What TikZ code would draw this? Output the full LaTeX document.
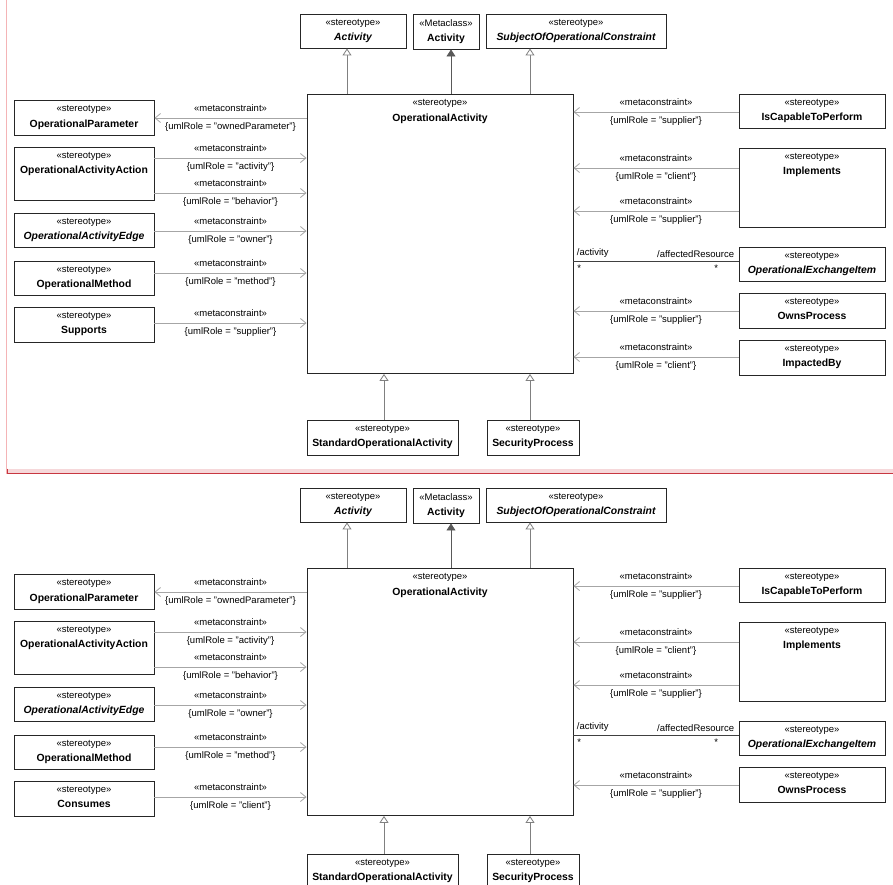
\documentclass[tikz,border=0pt]{standalone}
\usepackage{fontspec}
\setmainfont{Liberation Sans}
\usepackage{tikz}
\usetikzlibrary{arrows.meta, positioning}

\definecolor{pagered}{RGB}{200,55,65}
\definecolor{pagepink}{RGB}{246,216,218}
\definecolor{marginpink}{RGB}{244,180,182}
\newcommand{\nm}[1]{\fontsize{10.4}{15.5}\selectfont\bfseries #1}

\begin{document}
\begin{tikzpicture}[
  x=1pt, y=-1pt,
  stbox/.style={draw=black!85, line width=0.9pt, fill=white, inner sep=0pt},
  sthead/.style={anchor=north, align=center, inner sep=0pt, yshift=-5.5pt,
                 font=\fontsize{9.5}{15.5}\selectfont},
  dep/.style={draw=gray!70, line width=0.8pt,
              -{Straight Barb[length=5.5pt, width=9pt]}},
  gen/.style={draw=black!50, line width=0.8pt,
              -{Triangle[open, length=7pt, width=9pt, fill=white]}},
  ext/.style={draw=black!65, line width=0.8pt,
              -{Triangle[length=7pt, width=9pt]}},
  assoc/.style={draw=black!75, line width=0.8pt},
  mc/.style={midway, font=\fontsize{9.5}{11}\selectfont, yshift=9.5pt},
  role/.style={midway, font=\fontsize{9.5}{11}\selectfont, yshift=-9.5pt},
  assocend/.style={font=\fontsize{9.5}{11}\selectfont, inner sep=0pt}
]
\useasboundingbox (0,0) rectangle (893,884);
\clip (0,0) rectangle (893,884);
\fill[white] (0,0) rectangle (893,884);

% both diagrams: suffix / offset / last left box / its role / box height / child row
\foreach \dg/\dy/\lname/\lrole/\bh/\ly in
    {t/0/Supports/supplier/279/437.5, b/474/Consumes/client/247/397.5}{
\begin{scope}[yshift=-\dy pt]
  % top row
  \node[stbox, minimum width=106pt, minimum height=34pt,
        label={[sthead]north:«stereotype»\\\nm{\itshape Activity}}] (acts\dg) at (353,31) {};
  \node[stbox, minimum width=66pt, minimum height=35pt,
        label={[sthead]north:«Metaclass»\\\nm{Activity}}] (actm\dg) at (446,31.5) {};
  \node[stbox, minimum width=180pt, minimum height=34pt,
        label={[sthead]north:«stereotype»\\\nm{\itshape SubjectOfOperationalConstraint}}] (subj\dg) at (576,31) {};

  % central stereotype
  \node[stbox, anchor=north, minimum width=266pt, minimum height=\bh pt,
        label={[sthead]north:«stereotype»\\\nm{OperationalActivity}}] (opact\dg) at (440,94) {};

  % left column
  \node[stbox, minimum width=140pt, minimum height=35pt,
        label={[sthead]north:«stereotype»\\\nm{OperationalParameter}}] (opar\dg) at (84,118) {};
  \node[stbox, minimum width=140pt, minimum height=53pt,
        label={[sthead]north:«stereotype»\\\nm{OperationalActivityAction}}] (oaa\dg) at (84,173.5) {};
  \node[stbox, minimum width=140pt, minimum height=34pt,
        label={[sthead]north:«stereotype»\\\nm{\itshape OperationalActivityEdge}}] (oae\dg) at (84,230) {};
  \node[stbox, minimum width=140pt, minimum height=34pt,
        label={[sthead]north:«stereotype»\\\nm{OperationalMethod}}] (omet\dg) at (84,278) {};
  \node[stbox, minimum width=140pt, minimum height=35pt,
        label={[sthead]north:«stereotype»\\\nm{\lname}}] (last\dg) at (84,324.5) {};

  % right column
  \node[stbox, minimum width=146pt, minimum height=34pt,
        label={[sthead]north:«stereotype»\\\nm{IsCapableToPerform}}] (cap\dg) at (812,111) {};
  \node[stbox, minimum width=146pt, minimum height=79pt,
        label={[sthead]north:«stereotype»\\\nm{Implements}}] (impl\dg) at (812,187.5) {};
  \node[stbox, minimum width=146pt, minimum height=34pt,
        label={[sthead]north:«stereotype»\\\nm{\itshape OperationalExchangeItem}}] (oxi\dg) at (812,264) {};
  \node[stbox, minimum width=146pt, minimum height=35pt,
        label={[sthead]north:«stereotype»\\\nm{OwnsProcess}}] (owns\dg) at (812,310.5) {};

  % children
  \node[stbox, minimum width=151pt, minimum height=35pt,
        label={[sthead]north:«stereotype»\\\nm{StandardOperationalActivity}}] (std\dg) at (382.5,\ly) {};
  \node[stbox, minimum width=92pt, minimum height=35pt,
        label={[sthead]north:«stereotype»\\\nm{SecurityProcess}}] (sec\dg) at (533,\ly) {};

  % generalizations
  \draw[gen] (opact\dg.north -| 347,0) -- (acts\dg.south -| 347,0);
  \draw[ext] (opact\dg.north -| 451,0) -- (actm\dg.south -| 451,0);
  \draw[gen] (opact\dg.north -| 530,0) -- (subj\dg.south -| 530,0);
  \draw[gen] (std\dg.north -| 384,0) -- (opact\dg.south -| 384,0);
  \draw[gen] (sec\dg.north -| 530,0) -- (opact\dg.south -| 530,0);

  % metaconstraints, left
  \draw[dep] (opact\dg.west |- 0,118) -- (opar\dg.east |- 0,118)
    node[mc] {«metaconstraint»} node[role] {\{umlRole = "ownedParameter"\}};
  \foreach \n/\y/\r in {oaa/158/activity, oaa/193/behavior, oae/231/owner,
                        omet/273/method, last/323/\lrole}{
    \draw[dep] (\n\dg.east |- 0,\y) -- (opact\dg.west |- 0,\y)
      node[mc] {«metaconstraint»} node[role] {\{umlRole = "\r"\}};
  }

  % metaconstraints, right
  \foreach \n/\y/\r in {cap/112/supplier, impl/168/client, impl/211/supplier,
                        owns/311/supplier}{
    \draw[dep] (\n\dg.west |- 0,\y) -- (opact\dg.east |- 0,\y)
      node[mc] {«metaconstraint»} node[role] {\{umlRole = "\r"\}};
  }

  % association
  \draw[assoc] (opact\dg.east |- 0,261) -- (oxi\dg.west |- 0,261)
    node[assocend, pos=0, anchor=south west, xshift=3pt, yshift=3.5pt] {/activity}
    node[assocend, pos=1, anchor=south east, xshift=-4pt, yshift=3.5pt] {/affectedResource}
    node[assocend, pos=0, anchor=north west, xshift=3.5pt, yshift=-4pt] {*}
    node[assocend, pos=1, anchor=north east, xshift=-20pt, yshift=-4pt] {*};
\end{scope}
}

% only in the first diagram
\node[stbox, minimum width=146pt, minimum height=35pt,
      label={[sthead]north:«stereotype»\\\nm{ImpactedBy}}] (impbt) at (812,357.5) {};
\draw[dep] (impbt.west |- 0,357) -- (opactt.east |- 0,357)
  node[mc] {«metaconstraint»} node[role] {\{umlRole = "client"\}};

% page break
\draw[marginpink, line width=0.9pt] (6.5,0) -- (6.5,474);
\fill[pagepink] (7,469) rectangle (893,472.5);
\draw[pagered, line width=1pt] (7,473.5) -- (893,473.5);
\draw[pagered, line width=0.8pt] (7.4,468.5) -- (7.4,474);
\end{tikzpicture}
\end{document}
